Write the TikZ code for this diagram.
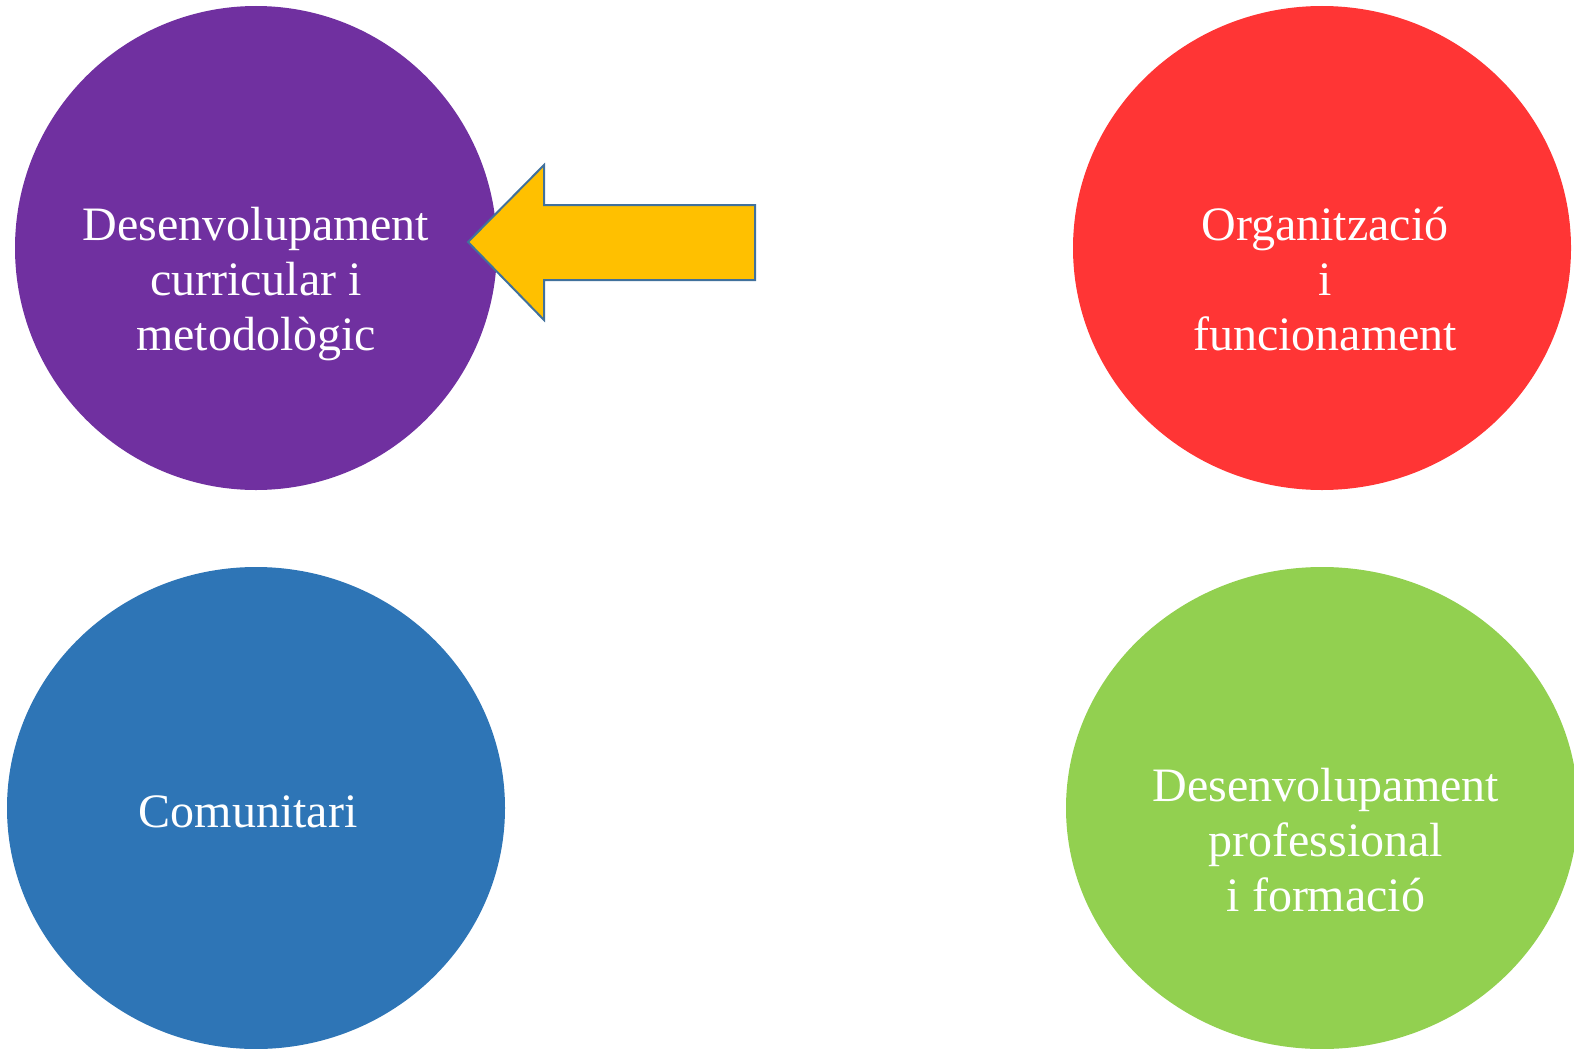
\documentclass[tikz,border=0pt]{standalone}
\usepackage{fontspec}
\setmainfont{Liberation Serif}
\usetikzlibrary{shapes.geometric}
\definecolor{cpurple}{HTML}{7030A0}
\definecolor{cred}{HTML}{FF3535}
\definecolor{cblue}{HTML}{2E75B6}
\definecolor{cgreen}{HTML}{92D050}
\definecolor{carrow}{HTML}{FFC000}
\definecolor{cedge}{HTML}{41719C}
\tikzset{
  blob/.style={ellipse, draw=none, inner sep=0pt},
  lbl/.style={text=white, align=center, inner sep=0pt, font=\fontsize{48}{55}\selectfont},
}
\begin{document}
\begin{tikzpicture}[x=1pt,y=-1pt]
\useasboundingbox (0,0) rectangle (1574,1049);
\node[blob, fill=cpurple, minimum width=482pt, minimum height=484pt] (c1) at (256,248) {};
\node[blob, fill=cred, minimum width=498pt, minimum height=484pt] (c2) at (1322,248) {};
\node[blob, fill=cblue, minimum width=498pt, minimum height=482pt] (c3) at (256,808) {};
\node[blob, fill=cgreen, minimum width=512pt, minimum height=482pt] (c4) at (1322,808) {};
\node[lbl] (t1) at (256,284) {Desenvolupament\\curricular i\\metodològic};
\node[lbl] (t2) at (1325,279) {Organització\\i\\funcionament};
\node[lbl] (t3) at (248,812) {Comunitari};
\node[lbl] (t4) at (1326,840) {Desenvolupament\\professional\\i formació};
\draw[fill=carrow, draw=cedge, line width=2pt, line join=miter]
  (468,242) -- (544,165) -- (544,205) -- (755,205) -- (755,280) -- (544,280) -- (544,320) -- cycle;
\end{tikzpicture}
\end{document}
